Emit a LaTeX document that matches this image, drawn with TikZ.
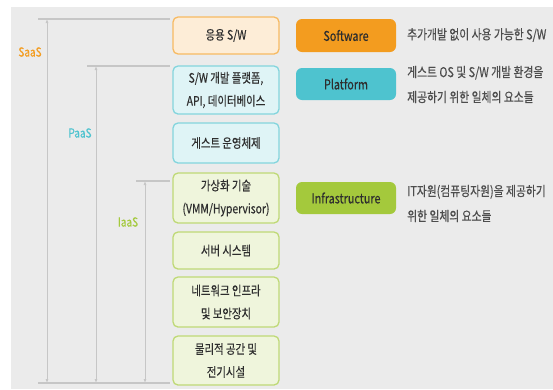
\documentclass[tikz,border=0pt]{standalone}
\usepackage{fontspec}
\setmainfont{Noto Sans CJK KR}[FakeStretch=0.8, FakeBold=0.4]
\usetikzlibrary{arrows.meta}
\definecolor{bg}{HTML}{EBEBEB}
\definecolor{lineg}{HTML}{C6C6C6}
\definecolor{sw}{HTML}{F39C1F}
\definecolor{pf}{HTML}{4EC3CF}
\definecolor{inf}{HTML}{A4C93C}
\definecolor{txt}{HTML}{2E2E2E}
\tikzset{
  layer/.style={draw=#1!70!white, fill=#1!18!white, line width=1.3pt, rounded corners=5pt,
    minimum width=106pt, align=center, text=txt, font=\fontsize{13}{23}\selectfont, inner sep=1pt},
  pill/.style={fill=#1, rounded corners=6pt, minimum width=100pt, minimum height=32pt,
    text=txt, font=\fontsize{13.5}{14}\selectfont},
  desc/.style={anchor=west, align=left, text=txt!85!white, font=\fontsize{13.5}{25}\selectfont, inner sep=0pt},
  lvl/.style={text=#1, font=\fontsize{12.5}{13}\selectfont},
}
\begin{document}
\begin{tikzpicture}[x=1pt, y=-1pt, >={Latex[length=4pt,width=3pt]}]
  \useasboundingbox (0,0) rectangle (553,389);
  \fill[bg] (11,7) rectangle (553,389);
  % layers
  \node[layer=sw, minimum height=37pt] (app) at (226,35.5) {응용 S/W};
  \node[layer=pf, minimum height=48pt] (plat) at (226,90) {S/W 개발 플랫폼,\\API, 데이터베이스};
  \node[layer=pf, minimum height=40pt] (guest) at (226,143) {게스트 운영체제};
  \node[layer=inf, minimum height=50pt] (virt) at (226,198) {가상화 기술\\(VMM/Hypervisor)};
  \node[layer=inf, minimum height=37pt] (server) at (226,250.5) {서버 시스템};
  \node[layer=inf, minimum height=50pt] (net) at (226,302) {네트워크 인프라\\및 보안장치};
  \node[layer=inf, minimum height=49pt] (phys) at (226,360.5) {물리적 공간 및\\전기시설};
  % service levels
  \coordinate (bot) at (38,383);
  \foreach \name/\x/\y/\col/\lab/\lx/\ly in {saas/47/19/sw/SaaS/30/52, paas/96/66/pf/PaaS/80/133, iaas/145/181/inf/IaaS/128/222} {
    \coordinate (\name top) at (\x,\y);
    \coordinate (\name bot) at (\x,383);
    \draw[lineg, line width=2pt] (\x-9,\y) -- (170,\y);
    \draw[<->, lineg, line width=0.8pt] (\name top) -- (\name bot);
    \node[lvl=\col] (\name) at (\lx,\ly) {\lab};
  }
  \draw[lineg, line width=2pt] (bot) -- (170,383);
  % categories
  \node[pill=sw, minimum height=33pt] (software) at (346,35.5) {Software};
  \node[pill=pf] (platform) at (346,84) {Platform};
  \node[pill=inf] (infra) at (346,198) {Infrastructure};
  \node[desc] (swdesc) at (407,35) {추가개발 없이 사용 가능한 S/W};
  \node[desc] (pfdesc) at (407,84.5) {게스트 OS 및 S/W 개발 환경을\\제공하기 위한 일체의 요소들};
  \node[desc] (infdesc) at (407,203.5) {IT자원(컴퓨팅자원)을 제공하기\\위한 일체의 요소들};
\end{tikzpicture}
\end{document}
